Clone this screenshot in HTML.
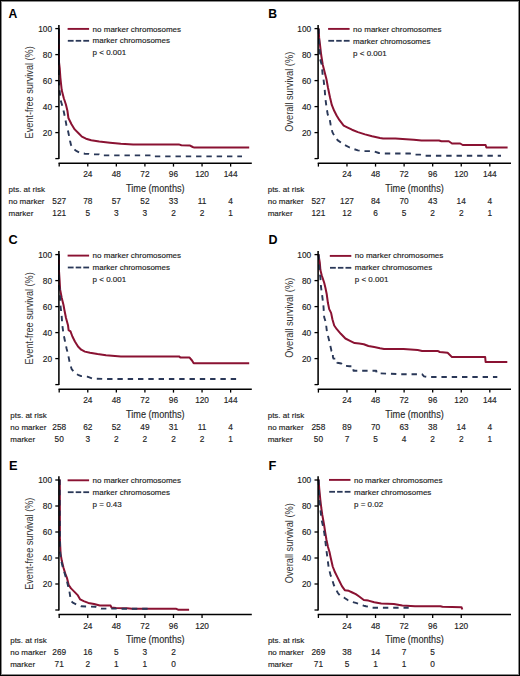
<!DOCTYPE html>
<html><head><meta charset="utf-8"><style>
html,body{margin:0;padding:0;background:#fff;}
#fig{position:relative;width:520px;height:676px;overflow:hidden;background:#fff;}
svg{position:absolute;left:0;top:0;font-family:"Liberation Sans", sans-serif;}
.ax{stroke:#000;stroke-width:1.55;}
.tk{stroke:#000;stroke-width:1.3;}
.lr{stroke:#8a1232;stroke-width:1.9;}
.lb{stroke:#2a3858;stroke-width:1.8;}
.cr{fill:none;stroke:#8a1232;stroke-width:2.0;stroke-linejoin:round;}
.cb{fill:none;stroke:#2a3858;stroke-width:1.9;stroke-dasharray:5.4 4.9;stroke-linejoin:round;}
text{fill:#222;}
.t{font-size:8px;stroke:#222;stroke-width:0.15;}
.n{font-size:8.3px;stroke:#222;stroke-width:0.15;}
.e{text-anchor:end;}
.m{text-anchor:middle;}
.big{font-size:10.6px;fill:#333;stroke:#333;stroke-width:0.0;}
.let{font-weight:bold;fill:#000;}
.tm{stroke-width:0.15;fill:#2a2a2a;stroke:#2a2a2a;}
</style></head><body><div id="fig">
<svg width="520" height="676" viewBox="0 0 520 676">
<polyline points="59,28.5 59,62 59.7,68 60.4,77.8 61.7,90 63.8,98.3 65.9,104.5 67.4,110.7 68.4,118 71.5,124.2 74.7,129.4 78.8,133.5 81.9,136.6 86,138.7 91.2,140.3 96,141 99.2,141.6 110,142.7 120.8,143.8 133.1,144.4 178.8,144.4 181.4,145.2 190.1,145.6 192.7,147 194.4,147.6 249.2,147.6" class="cr"/>
<polyline points="59,28.5 59,84 59.8,92 60.7,100.4 62.2,105.5 63.8,111.8 65.3,119 66.4,125.2 67.9,130.4 69,135.6 70,140.8 71,145 73.6,149 76.7,151.2 80.9,153.2 85,153.7 89,153.9 91,154.4 99,154.4 100,155.4 150.6,155.4 151.4,156.4 242,156.4" class="cb"/>
<g transform="translate(0,0)">
<line x1="58.9" y1="24.9" x2="58.9" y2="159.1" class="ax"/>
<line x1="55.3" y1="28.6" x2="58.9" y2="28.6" class="tk"/>
<text x="52" y="32.1" class="n e">100</text>
<line x1="55.3" y1="54.6" x2="58.9" y2="54.6" class="tk"/>
<text x="52" y="58.1" class="n e">80</text>
<line x1="55.3" y1="80.6" x2="58.9" y2="80.6" class="tk"/>
<text x="52" y="84.1" class="n e">60</text>
<line x1="55.3" y1="106.6" x2="58.9" y2="106.6" class="tk"/>
<text x="52" y="110.1" class="n e">40</text>
<line x1="55.3" y1="132.6" x2="58.9" y2="132.6" class="tk"/>
<text x="52" y="136.1" class="n e">20</text>
<line x1="55.3" y1="158.6" x2="58.9" y2="158.6" class="tk"/>
<line x1="58.5" y1="163.2" x2="251.8" y2="163.2" class="ax"/>
<line x1="59.2" y1="163.2" x2="59.2" y2="166.6" class="tk"/>
<line x1="87.77" y1="163.2" x2="87.77" y2="166.6" class="tk"/>
<text x="87.77" y="177.3" class="n m">24</text>
<line x1="116.34" y1="163.2" x2="116.34" y2="166.6" class="tk"/>
<text x="116.34" y="177.3" class="n m">48</text>
<line x1="144.91" y1="163.2" x2="144.91" y2="166.6" class="tk"/>
<text x="144.91" y="177.3" class="n m">72</text>
<line x1="173.48" y1="163.2" x2="173.48" y2="166.6" class="tk"/>
<text x="173.48" y="177.3" class="n m">96</text>
<line x1="202.05" y1="163.2" x2="202.05" y2="166.6" class="tk"/>
<text x="202.05" y="177.3" class="n m">120</text>
<line x1="230.62" y1="163.2" x2="230.62" y2="166.6" class="tk"/>
<text x="230.62" y="177.3" class="n m">144</text>
<text x="126.1" y="191.7" class="big tm" textLength="58.5" lengthAdjust="spacingAndGlyphs">Time (months)</text>
<text transform="translate(33.4,138.4) rotate(-90)" class="big" textLength="92.1" lengthAdjust="spacingAndGlyphs">Event-free survival (%)</text>
<g transform="translate(0,0)"><line x1="67.6" y1="28.9" x2="89.1" y2="28.9" class="lr"/><line x1="67.8" y1="40.8" x2="73.6" y2="40.8" class="lb"/><line x1="75.7" y1="40.8" x2="81.2" y2="40.8" class="lb"/><line x1="83.3" y1="40.8" x2="89.1" y2="40.8" class="lb"/><text x="92.6" y="31.8" class="t">no marker chromosomes</text><text x="92.6" y="43.4" class="t">marker chromosomes</text><text x="92.6" y="55.4" class="t">p &lt; 0.001</text></g>
<text x="8.5" y="191.9" class="t">pts. at risk</text>
<text x="8.5" y="203.9" class="t">no marker</text>
<text x="8.5" y="215.6" class="t">marker</text>
<text x="59.2" y="203.9" class="n m">527</text>
<text x="59.2" y="215.6" class="n m">121</text>
<text x="87.77" y="203.9" class="n m">78</text>
<text x="87.77" y="215.6" class="n m">5</text>
<text x="116.34" y="203.9" class="n m">57</text>
<text x="116.34" y="215.6" class="n m">3</text>
<text x="144.91" y="203.9" class="n m">52</text>
<text x="144.91" y="215.6" class="n m">3</text>
<text x="173.48" y="203.9" class="n m">33</text>
<text x="173.48" y="215.6" class="n m">2</text>
<text x="202.05" y="203.9" class="n m">11</text>
<text x="202.05" y="215.6" class="n m">2</text>
<text x="230.62" y="203.9" class="n m">4</text>
<text x="230.62" y="215.6" class="n m">1</text>
</g>
<text x="8.6" y="17.6" class="let" font-size="12.2">A</text>
<polyline points="318.7,28.5 319.1,37.4 320.1,45.7 321.2,55 322.7,64.4 324.8,72.7 326.4,78.9 327.9,87.2 329.5,95 330.1,97.8 331.8,104.9 334.2,110.8 336.6,115.5 339.5,120.2 343.7,125.6 347.2,127.3 352,129.7 357.9,132.1 365,134.4 372.1,136.2 380,138 383.1,138.5 395.4,138.5 406.2,139.2 413.8,139.7 421.5,140.5 439,140.5 441.4,141.3 448.8,141.3 452,143.5 460.2,143.5 462.7,145 485.6,145 486.4,147.5 507.6,147.5" class="cr"/>
<polyline points="318.7,28.5 319,38 320.1,59.2 321.7,64.4 322.2,69.6 322.7,75.8 323.6,80 324.7,89.5 325.3,97.8 326.5,107.2 327.7,114.3 329.5,117.9 330.7,125 332.4,132.1 334.8,136.8 337.8,140.4 341.3,142.7 344.9,145.1 349.6,147.5 354.3,149.2 357.9,150.4 365,151.1 370.9,151.1 374.2,151.5 378.8,153 383,153.5 410,153.5 413,154.6 420,154.6 423,155.7 501,155.7" class="cb"/>
<g transform="translate(259.2,0)">
<line x1="58.9" y1="24.9" x2="58.9" y2="159.1" class="ax"/>
<line x1="55.3" y1="28.6" x2="58.9" y2="28.6" class="tk"/>
<text x="52" y="32.1" class="n e">100</text>
<line x1="55.3" y1="54.6" x2="58.9" y2="54.6" class="tk"/>
<text x="52" y="58.1" class="n e">80</text>
<line x1="55.3" y1="80.6" x2="58.9" y2="80.6" class="tk"/>
<text x="52" y="84.1" class="n e">60</text>
<line x1="55.3" y1="106.6" x2="58.9" y2="106.6" class="tk"/>
<text x="52" y="110.1" class="n e">40</text>
<line x1="55.3" y1="132.6" x2="58.9" y2="132.6" class="tk"/>
<text x="52" y="136.1" class="n e">20</text>
<line x1="55.3" y1="158.6" x2="58.9" y2="158.6" class="tk"/>
<line x1="58.5" y1="163.2" x2="251.8" y2="163.2" class="ax"/>
<line x1="59.2" y1="163.2" x2="59.2" y2="166.6" class="tk"/>
<line x1="87.77" y1="163.2" x2="87.77" y2="166.6" class="tk"/>
<text x="87.77" y="177.3" class="n m">24</text>
<line x1="116.34" y1="163.2" x2="116.34" y2="166.6" class="tk"/>
<text x="116.34" y="177.3" class="n m">48</text>
<line x1="144.91" y1="163.2" x2="144.91" y2="166.6" class="tk"/>
<text x="144.91" y="177.3" class="n m">72</text>
<line x1="173.48" y1="163.2" x2="173.48" y2="166.6" class="tk"/>
<text x="173.48" y="177.3" class="n m">96</text>
<line x1="202.05" y1="163.2" x2="202.05" y2="166.6" class="tk"/>
<text x="202.05" y="177.3" class="n m">120</text>
<line x1="230.62" y1="163.2" x2="230.62" y2="166.6" class="tk"/>
<text x="230.62" y="177.3" class="n m">144</text>
<text x="126.1" y="191.7" class="big tm" textLength="58.5" lengthAdjust="spacingAndGlyphs">Time (months)</text>
<text transform="translate(33.4,131.8) rotate(-90)" class="big" textLength="80" lengthAdjust="spacingAndGlyphs">Overall survival (%)</text>
<g transform="translate(1.3,0)"><line x1="67.6" y1="28.9" x2="89.1" y2="28.9" class="lr"/><line x1="67.8" y1="40.8" x2="73.6" y2="40.8" class="lb"/><line x1="75.7" y1="40.8" x2="81.2" y2="40.8" class="lb"/><line x1="83.3" y1="40.8" x2="89.1" y2="40.8" class="lb"/><text x="92.6" y="32" class="t">no marker chromosomes</text><text x="92.6" y="43.6" class="t">marker chromosomes</text><text x="92.6" y="55.6" class="t">p &lt; 0.001</text></g>
<text x="8.5" y="191.9" class="t">pts. at risk</text>
<text x="8.5" y="203.9" class="t">no marker</text>
<text x="8.5" y="215.6" class="t">marker</text>
<text x="59.2" y="203.9" class="n m">527</text>
<text x="59.2" y="215.6" class="n m">121</text>
<text x="87.77" y="203.9" class="n m">127</text>
<text x="87.77" y="215.6" class="n m">12</text>
<text x="116.34" y="203.9" class="n m">84</text>
<text x="116.34" y="215.6" class="n m">6</text>
<text x="144.91" y="203.9" class="n m">70</text>
<text x="144.91" y="215.6" class="n m">5</text>
<text x="173.48" y="203.9" class="n m">43</text>
<text x="173.48" y="215.6" class="n m">2</text>
<text x="202.05" y="203.9" class="n m">14</text>
<text x="202.05" y="215.6" class="n m">2</text>
<text x="230.62" y="203.9" class="n m">4</text>
<text x="230.62" y="215.6" class="n m">1</text>
</g>
<text x="268.3" y="17.6" class="let" font-size="12.2">B</text>
<polyline points="59,254.2 59,271 59.6,280 60.1,289.4 61.7,297.7 63.5,305 64.4,310 66,318 68,325.2 68.6,330.2 70.5,331.4 72.4,336.5 74.9,341.5 78,346.5 81.2,349.7 84.9,351.6 90,352.8 97.5,354.1 106,355.3 120.9,356.4 179,356.4 180.6,357.6 189.6,357.6 192,360.5 193.7,363.3 249.2,363.3" class="cr"/>
<polyline points="59,254.2 59,285 60.1,293.5 60.4,305 61.7,316.4 62.3,325.2 63.5,334 64.8,340.3 66.7,349 68,354.1 69.8,362.9 71.7,369.2 74.9,373 78,374.8 81.2,376.1 87.4,376.7 92.5,378.6 106,379 236.2,379" class="cb"/>
<g transform="translate(0,226)">
<line x1="58.9" y1="24.9" x2="58.9" y2="159.1" class="ax"/>
<line x1="55.3" y1="28.6" x2="58.9" y2="28.6" class="tk"/>
<text x="52" y="32.1" class="n e">100</text>
<line x1="55.3" y1="54.6" x2="58.9" y2="54.6" class="tk"/>
<text x="52" y="58.1" class="n e">80</text>
<line x1="55.3" y1="80.6" x2="58.9" y2="80.6" class="tk"/>
<text x="52" y="84.1" class="n e">60</text>
<line x1="55.3" y1="106.6" x2="58.9" y2="106.6" class="tk"/>
<text x="52" y="110.1" class="n e">40</text>
<line x1="55.3" y1="132.6" x2="58.9" y2="132.6" class="tk"/>
<text x="52" y="136.1" class="n e">20</text>
<line x1="55.3" y1="158.6" x2="58.9" y2="158.6" class="tk"/>
<line x1="58.5" y1="163.2" x2="251.8" y2="163.2" class="ax"/>
<line x1="59.2" y1="163.2" x2="59.2" y2="166.6" class="tk"/>
<line x1="87.77" y1="163.2" x2="87.77" y2="166.6" class="tk"/>
<text x="87.77" y="177.3" class="n m">24</text>
<line x1="116.34" y1="163.2" x2="116.34" y2="166.6" class="tk"/>
<text x="116.34" y="177.3" class="n m">48</text>
<line x1="144.91" y1="163.2" x2="144.91" y2="166.6" class="tk"/>
<text x="144.91" y="177.3" class="n m">72</text>
<line x1="173.48" y1="163.2" x2="173.48" y2="166.6" class="tk"/>
<text x="173.48" y="177.3" class="n m">96</text>
<line x1="202.05" y1="163.2" x2="202.05" y2="166.6" class="tk"/>
<text x="202.05" y="177.3" class="n m">120</text>
<line x1="230.62" y1="163.2" x2="230.62" y2="166.6" class="tk"/>
<text x="230.62" y="177.3" class="n m">144</text>
<text x="126.1" y="191.7" class="big tm" textLength="58.5" lengthAdjust="spacingAndGlyphs">Time (months)</text>
<text transform="translate(33.4,138.4) rotate(-90)" class="big" textLength="92.1" lengthAdjust="spacingAndGlyphs">Event-free survival (%)</text>
<g transform="translate(0,0.7)"><line x1="67.6" y1="28.9" x2="89.1" y2="28.9" class="lr"/><line x1="67.8" y1="40.8" x2="73.6" y2="40.8" class="lb"/><line x1="75.7" y1="40.8" x2="81.2" y2="40.8" class="lb"/><line x1="83.3" y1="40.8" x2="89.1" y2="40.8" class="lb"/><text x="92.6" y="31.4" class="t">no marker chromosomes</text><text x="92.6" y="43" class="t">marker chromosomes</text><text x="92.6" y="55" class="t">p &lt; 0.001</text></g>
<text x="10.3" y="191.9" class="t">pts. at risk</text>
<text x="10.3" y="203.9" class="t">no marker</text>
<text x="10.3" y="215.6" class="t">marker</text>
<text x="59.2" y="203.9" class="n m">258</text>
<text x="59.2" y="215.6" class="n m">50</text>
<text x="87.77" y="203.9" class="n m">62</text>
<text x="87.77" y="215.6" class="n m">3</text>
<text x="116.34" y="203.9" class="n m">52</text>
<text x="116.34" y="215.6" class="n m">2</text>
<text x="144.91" y="203.9" class="n m">49</text>
<text x="144.91" y="215.6" class="n m">2</text>
<text x="173.48" y="203.9" class="n m">31</text>
<text x="173.48" y="215.6" class="n m">2</text>
<text x="202.05" y="203.9" class="n m">11</text>
<text x="202.05" y="215.6" class="n m">2</text>
<text x="230.62" y="203.9" class="n m">4</text>
<text x="230.62" y="215.6" class="n m">1</text>
</g>
<text x="8.5" y="243.6" class="let" font-size="12.7">C</text>
<polyline points="318.7,254.2 318.5,255 319.8,262.6 320.4,270.1 321.7,275.2 322.9,278.9 324.2,282.7 325.4,287.7 326.7,294 327.9,302.8 329.2,309.1 331.1,312.9 332.4,319.2 334.2,325.5 336.8,329.2 340.8,333.8 345.4,338.5 350,340.8 354.6,343.1 359.2,343.6 363.8,344.2 368.4,346 374.2,347.1 380,348.3 384,349 403.5,349 417.7,350 422.1,350.9 437.6,350.9 439.8,352 447.6,352.7 452,357.1 485.2,357.1 485.6,362 507.3,362" class="cr"/>
<polyline points="318.7,254.2 319.5,270 320.4,278 321,287 322.3,296.5 323.5,306.6 324.2,317.3 325.8,322.3 326.9,331.5 329.2,340.8 330.6,347 331.5,351 332.9,351.5 332.9,357 333.5,358.6 336.5,358.6 337.3,362.7 341.3,363.5 343,365.6 349.4,366.2 353.3,366.2 353.5,370.8 376.3,370.8 376.6,373.2 400,374.2 422,374.2 424,376.4 427.7,377 497.3,377" class="cb"/>
<g transform="translate(259.2,226)">
<line x1="58.9" y1="24.9" x2="58.9" y2="159.1" class="ax"/>
<line x1="55.3" y1="28.6" x2="58.9" y2="28.6" class="tk"/>
<text x="52" y="32.1" class="n e">100</text>
<line x1="55.3" y1="54.6" x2="58.9" y2="54.6" class="tk"/>
<text x="52" y="58.1" class="n e">80</text>
<line x1="55.3" y1="80.6" x2="58.9" y2="80.6" class="tk"/>
<text x="52" y="84.1" class="n e">60</text>
<line x1="55.3" y1="106.6" x2="58.9" y2="106.6" class="tk"/>
<text x="52" y="110.1" class="n e">40</text>
<line x1="55.3" y1="132.6" x2="58.9" y2="132.6" class="tk"/>
<text x="52" y="136.1" class="n e">20</text>
<line x1="55.3" y1="158.6" x2="58.9" y2="158.6" class="tk"/>
<line x1="58.5" y1="163.2" x2="251.8" y2="163.2" class="ax"/>
<line x1="59.2" y1="163.2" x2="59.2" y2="166.6" class="tk"/>
<line x1="87.77" y1="163.2" x2="87.77" y2="166.6" class="tk"/>
<text x="87.77" y="177.3" class="n m">24</text>
<line x1="116.34" y1="163.2" x2="116.34" y2="166.6" class="tk"/>
<text x="116.34" y="177.3" class="n m">48</text>
<line x1="144.91" y1="163.2" x2="144.91" y2="166.6" class="tk"/>
<text x="144.91" y="177.3" class="n m">72</text>
<line x1="173.48" y1="163.2" x2="173.48" y2="166.6" class="tk"/>
<text x="173.48" y="177.3" class="n m">96</text>
<line x1="202.05" y1="163.2" x2="202.05" y2="166.6" class="tk"/>
<text x="202.05" y="177.3" class="n m">120</text>
<line x1="230.62" y1="163.2" x2="230.62" y2="166.6" class="tk"/>
<text x="230.62" y="177.3" class="n m">144</text>
<text x="126.1" y="191.7" class="big tm" textLength="58.5" lengthAdjust="spacingAndGlyphs">Time (months)</text>
<text transform="translate(33.4,131.8) rotate(-90)" class="big" textLength="80" lengthAdjust="spacingAndGlyphs">Overall survival (%)</text>
<g transform="translate(3,1)"><line x1="67.6" y1="28.9" x2="89.1" y2="28.9" class="lr"/><line x1="67.8" y1="40.8" x2="73.6" y2="40.8" class="lb"/><line x1="75.7" y1="40.8" x2="81.2" y2="40.8" class="lb"/><line x1="83.3" y1="40.8" x2="89.1" y2="40.8" class="lb"/><text x="92.6" y="31.4" class="t">no marker chromosomes</text><text x="92.6" y="43" class="t">marker chromosomes</text><text x="92.6" y="55" class="t">p &lt; 0.001</text></g>
<text x="8.5" y="191.9" class="t">pts. at risk</text>
<text x="8.5" y="203.9" class="t">no marker</text>
<text x="8.5" y="215.6" class="t">marker</text>
<text x="59.2" y="203.9" class="n m">258</text>
<text x="59.2" y="215.6" class="n m">50</text>
<text x="87.77" y="203.9" class="n m">89</text>
<text x="87.77" y="215.6" class="n m">7</text>
<text x="116.34" y="203.9" class="n m">70</text>
<text x="116.34" y="215.6" class="n m">5</text>
<text x="144.91" y="203.9" class="n m">63</text>
<text x="144.91" y="215.6" class="n m">4</text>
<text x="173.48" y="203.9" class="n m">38</text>
<text x="173.48" y="215.6" class="n m">2</text>
<text x="202.05" y="203.9" class="n m">14</text>
<text x="202.05" y="215.6" class="n m">2</text>
<text x="230.62" y="203.9" class="n m">4</text>
<text x="230.62" y="215.6" class="n m">1</text>
</g>
<text x="268.6" y="243.8" class="let" font-size="12.5">D</text>
<polyline points="59.8,479.5 59.9,539.4 60.6,553.8 61.8,560.8 63.5,567.7 65.2,573.4 67,578.1 68.7,585 71,588.4 74.5,591.9 77.9,595.4 80.2,599.4 83.7,601.1 88.3,602.9 94.1,604 99.8,605.5 110.6,605.5 111.4,607.5 116,607.9 127,608.2 132.4,608.8 176.3,608.8 178.1,609.7 189.1,609.7" class="cr"/>
<polyline points="59.7,479.5 59.8,517.9 60.1,551.5 61.2,560.8 62.9,567.7 64.7,573.4 66.4,579.2 68.1,586.1 69.3,590.7 70.4,597.7 71,601.1 73.3,602.9 76.8,604.6 81.4,606.3 95.2,606.7 101,608.6 148,608.8" class="cb"/>
<g transform="translate(0,451.4)">
<line x1="58.9" y1="24.9" x2="58.9" y2="159.1" class="ax"/>
<line x1="55.3" y1="28.6" x2="58.9" y2="28.6" class="tk"/>
<text x="52" y="32.1" class="n e">100</text>
<line x1="55.3" y1="54.6" x2="58.9" y2="54.6" class="tk"/>
<text x="52" y="58.1" class="n e">80</text>
<line x1="55.3" y1="80.6" x2="58.9" y2="80.6" class="tk"/>
<text x="52" y="84.1" class="n e">60</text>
<line x1="55.3" y1="106.6" x2="58.9" y2="106.6" class="tk"/>
<text x="52" y="110.1" class="n e">40</text>
<line x1="55.3" y1="132.6" x2="58.9" y2="132.6" class="tk"/>
<text x="52" y="136.1" class="n e">20</text>
<line x1="55.3" y1="158.6" x2="58.9" y2="158.6" class="tk"/>
<line x1="58.5" y1="163.2" x2="251.8" y2="163.2" class="ax"/>
<line x1="59.2" y1="163.2" x2="59.2" y2="166.6" class="tk"/>
<line x1="87.77" y1="163.2" x2="87.77" y2="166.6" class="tk"/>
<text x="87.77" y="177.3" class="n m">24</text>
<line x1="116.34" y1="163.2" x2="116.34" y2="166.6" class="tk"/>
<text x="116.34" y="177.3" class="n m">48</text>
<line x1="144.91" y1="163.2" x2="144.91" y2="166.6" class="tk"/>
<text x="144.91" y="177.3" class="n m">72</text>
<line x1="173.48" y1="163.2" x2="173.48" y2="166.6" class="tk"/>
<text x="173.48" y="177.3" class="n m">96</text>
<line x1="202.05" y1="163.2" x2="202.05" y2="166.6" class="tk"/>
<text x="202.05" y="177.3" class="n m">120</text>
<text x="126.1" y="191.7" class="big tm" textLength="58.5" lengthAdjust="spacingAndGlyphs">Time (months)</text>
<text transform="translate(33.4,138.4) rotate(-90)" class="big" textLength="92.1" lengthAdjust="spacingAndGlyphs">Event-free survival (%)</text>
<g transform="translate(0,0)"><line x1="67.6" y1="28.9" x2="89.1" y2="28.9" class="lr"/><line x1="67.8" y1="40.8" x2="73.6" y2="40.8" class="lb"/><line x1="75.7" y1="40.8" x2="81.2" y2="40.8" class="lb"/><line x1="83.3" y1="40.8" x2="89.1" y2="40.8" class="lb"/><text x="92.6" y="31.7" class="t">no marker chromosomes</text><text x="92.6" y="43.3" class="t">marker chromosomes</text><text x="92.6" y="55.3" class="t">p = 0.43</text></g>
<text x="10.2" y="191.9" class="t">pts. at risk</text>
<text x="10.2" y="203.9" class="t">no marker</text>
<text x="10.2" y="215.6" class="t">marker</text>
<text x="59.2" y="203.9" class="n m">269</text>
<text x="59.2" y="215.6" class="n m">71</text>
<text x="87.77" y="203.9" class="n m">16</text>
<text x="87.77" y="215.6" class="n m">2</text>
<text x="116.34" y="203.9" class="n m">5</text>
<text x="116.34" y="215.6" class="n m">1</text>
<text x="144.91" y="203.9" class="n m">3</text>
<text x="144.91" y="215.6" class="n m">1</text>
<text x="173.48" y="203.9" class="n m">2</text>
<text x="173.48" y="215.6" class="n m">0</text>
</g>
<text x="8.9" y="469.9" class="let" font-size="12.8">E</text>
<polyline points="318.6,479.5 319.2,488 320.3,499.5 321.3,508 322.3,515 323.3,520.5 324.1,525 325.3,533 326.5,540 328,547 329.5,552 330.6,557.3 332.7,566.5 335,572.3 337.3,576.9 339.6,581.5 341.9,586.1 344.8,590.2 348.8,590.8 352.3,592.5 355.8,594.2 359.2,596.5 363.8,600 368.4,600.6 374.2,602.3 381.2,603.6 393.8,604 402.3,605.5 415,606.2 440.4,606.2 442.5,606.8 461.5,607.2 462.3,609.5" class="cr"/>
<polyline points="318.6,479.5 319.4,500 320.7,512.3 321.7,520.6 322.7,524.7 324.3,533 325.2,540 326.3,549.2 327.5,558.5 328.7,567.7 330.4,574.6 332.1,579.2 333.8,585 336.1,589.6 337.9,593 340.8,596.5 344.2,597.7 347.7,600 351.1,601.7 355.8,602.9 359.2,604 363.8,605.7 366,606.2 369.6,606.9 372,607.8 408.7,607.8" class="cb"/>
<g transform="translate(259.2,451.4)">
<line x1="58.9" y1="24.9" x2="58.9" y2="159.1" class="ax"/>
<line x1="55.3" y1="28.6" x2="58.9" y2="28.6" class="tk"/>
<text x="52" y="32.1" class="n e">100</text>
<line x1="55.3" y1="54.6" x2="58.9" y2="54.6" class="tk"/>
<text x="52" y="58.1" class="n e">80</text>
<line x1="55.3" y1="80.6" x2="58.9" y2="80.6" class="tk"/>
<text x="52" y="84.1" class="n e">60</text>
<line x1="55.3" y1="106.6" x2="58.9" y2="106.6" class="tk"/>
<text x="52" y="110.1" class="n e">40</text>
<line x1="55.3" y1="132.6" x2="58.9" y2="132.6" class="tk"/>
<text x="52" y="136.1" class="n e">20</text>
<line x1="55.3" y1="158.6" x2="58.9" y2="158.6" class="tk"/>
<line x1="58.5" y1="163.2" x2="251.8" y2="163.2" class="ax"/>
<line x1="59.2" y1="163.2" x2="59.2" y2="166.6" class="tk"/>
<line x1="87.77" y1="163.2" x2="87.77" y2="166.6" class="tk"/>
<text x="87.77" y="177.3" class="n m">24</text>
<line x1="116.34" y1="163.2" x2="116.34" y2="166.6" class="tk"/>
<text x="116.34" y="177.3" class="n m">48</text>
<line x1="144.91" y1="163.2" x2="144.91" y2="166.6" class="tk"/>
<text x="144.91" y="177.3" class="n m">72</text>
<line x1="173.48" y1="163.2" x2="173.48" y2="166.6" class="tk"/>
<text x="173.48" y="177.3" class="n m">96</text>
<line x1="202.05" y1="163.2" x2="202.05" y2="166.6" class="tk"/>
<text x="202.05" y="177.3" class="n m">120</text>
<text x="126.1" y="191.7" class="big tm" textLength="58.5" lengthAdjust="spacingAndGlyphs">Time (months)</text>
<text transform="translate(33.4,131.8) rotate(-90)" class="big" textLength="80" lengthAdjust="spacingAndGlyphs">Overall survival (%)</text>
<g transform="translate(2.2,-0.4)"><line x1="67.6" y1="28.9" x2="89.1" y2="28.9" class="lr"/><line x1="67.8" y1="40.8" x2="73.6" y2="40.8" class="lb"/><line x1="75.7" y1="40.8" x2="81.2" y2="40.8" class="lb"/><line x1="83.3" y1="40.8" x2="89.1" y2="40.8" class="lb"/><text x="92.6" y="32.1" class="t">no marker chromosomes</text><text x="92.6" y="43.7" class="t">marker chromosomes</text><text x="92.6" y="55.7" class="t">p = 0.02</text></g>
<text x="8.7" y="191.9" class="t">pts. at risk</text>
<text x="8.7" y="203.9" class="t">no marker</text>
<text x="8.7" y="215.6" class="t">marker</text>
<text x="59.2" y="203.9" class="n m">269</text>
<text x="59.2" y="215.6" class="n m">71</text>
<text x="87.77" y="203.9" class="n m">38</text>
<text x="87.77" y="215.6" class="n m">5</text>
<text x="116.34" y="203.9" class="n m">14</text>
<text x="116.34" y="215.6" class="n m">1</text>
<text x="144.91" y="203.9" class="n m">7</text>
<text x="144.91" y="215.6" class="n m">1</text>
<text x="173.48" y="203.9" class="n m">5</text>
<text x="173.48" y="215.6" class="n m">0</text>
</g>
<text x="268.6" y="469.9" class="let" font-size="12.8">F</text>
<rect x="1.5" y="1.5" width="517" height="673" fill="none" stroke="#8a8a8a" stroke-width="1"/>
<rect x="0.5" y="0.5" width="519" height="675" fill="none" stroke="#000" stroke-width="1"/>
</svg></div></body></html>
